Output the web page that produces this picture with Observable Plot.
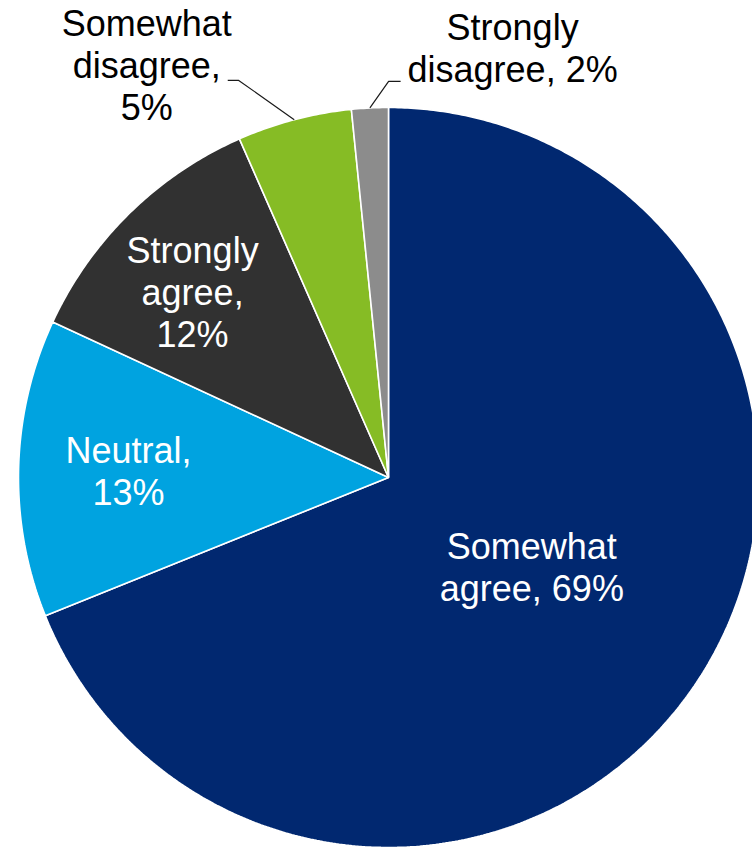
<!DOCTYPE html>
<html>
<head>
<meta charset="utf-8">
<script src="https://cdn.jsdelivr.net/npm/d3@7"></script>
<script src="https://cdn.jsdelivr.net/npm/@observablehq/plot@0.6"></script>
<style>
html, body { margin: 0; padding: 0; background: #fff; overflow: hidden; }
#chart svg { display: block; }
</style>
</head>
<body>
<div id="chart"></div>
<script>
// ---- data ----
const categories = ["Somewhat agree", "Neutral", "Strongly agree", "Somewhat disagree", "Strongly disagree"];
const values = [68.9, 13.0, 11.5, 5.0, 1.6];
const labelPrefixes = ["Somewhat\nagree, ", "Neutral,\n", "Strongly\nagree,\n", "Somewhat\ndisagree,\n", "Strongly\ndisagree, "];
const colors = ["#012870", "#00a3e0", "#313131", "#86bc25", "#8c8c8c"];

// ---- layout (not data) ----
const W = 752, H = 849, CX = 388, CY = 477, R = 370;
const labelRadius = [0.5, 0.7, 0.7, 1.0, 1.0];          // along slice mid-angle
const labelNudge = [[-10, 19.5], [-1, 34], [-14.5, 54.7], [-147.5, 0.7], [142.7, -25.5]]; // px
const outside = [false, false, false, true, true];
const leaderOffsets = {3: [[92, -40], [81, -40]], 4: [[-124, -1], [-112, -1]]}; // px, relative to label anchor

const rows = categories.map((c, i) => ({cat: c, value: values[i], i}));
const arcs = d3.pie().sort(null).value(d => d.value).startAngle(0).endAngle(2 * Math.PI)(rows);

// slice polygons
const slicePts = [];
for (const a of arcs) {
  const cat = a.data.cat;
  slicePts.push({cat, x: 0, y: 0});
  const n = Math.max(2, Math.ceil((a.endAngle - a.startAngle) / (Math.PI / 360)) + 1);
  for (let k = 0; k < n; k++) {
    const t = a.startAngle + (a.endAngle - a.startAngle) * k / (n - 1);
    slicePts.push({cat, x: Math.sin(t), y: Math.cos(t)});
  }
}

// labels
const labels = arcs.map(a => {
  const i = a.data.i;
  const m = (a.startAngle + a.endAngle) / 2;
  const r = labelRadius[i];
  const [nx, ny] = labelNudge[i];
  return {
    i, cat: a.data.cat, mid: m,
    x: r * Math.sin(m) + nx / R,
    y: r * Math.cos(m) - ny / R,
    text: labelPrefixes[i] + Math.round(a.data.value) + "%",
    outside: outside[i]
  };
});

// leader lines
const leaderPts = [];
for (const l of labels) {
  if (!l.outside) continue;
  leaderPts.push({cat: l.cat, x: Math.sin(l.mid), y: Math.cos(l.mid)});
  for (const [ox, oy] of leaderOffsets[l.i]) {
    leaderPts.push({cat: l.cat, x: l.x + ox / R, y: l.y - oy / R});
  }
}

const font = "'Liberation Sans', Arial, Helvetica, sans-serif";

const chart = Plot.plot({
  width: W,
  height: H,
  margin: 0,
  style: {background: "#fff", fontFamily: font},
  x: {domain: [-CX / R, (W - CX) / R], axis: null},
  y: {domain: [-(H - CY) / R, CY / R], axis: null},
  color: {domain: categories, range: colors},
  marks: [
    Plot.line(slicePts, {x: "x", y: "y", z: "cat", fill: "cat", stroke: "#fff", strokeWidth: 1.6, curve: "linear-closed", strokeLinejoin: "miter"}),
    Plot.line(leaderPts, {x: "x", y: "y", z: "cat", stroke: "#1a1a1a", strokeWidth: 1.2, strokeLinecap: "butt"}),
    Plot.text(labels.filter(d => !d.outside), {x: "x", y: "y", text: "text", fill: "#fff", fontSize: 36, fontFamily: font, lineHeight: 42 / 36, lineAnchor: "bottom", textAnchor: "middle"}),
    Plot.text(labels.filter(d => d.outside), {x: "x", y: "y", text: "text", fill: "#000", fontSize: 36, fontFamily: font, lineHeight: 42 / 36, lineAnchor: "bottom", textAnchor: "middle"})
  ]
});
document.getElementById("chart").appendChild(chart);
</script>
</body>
</html>
